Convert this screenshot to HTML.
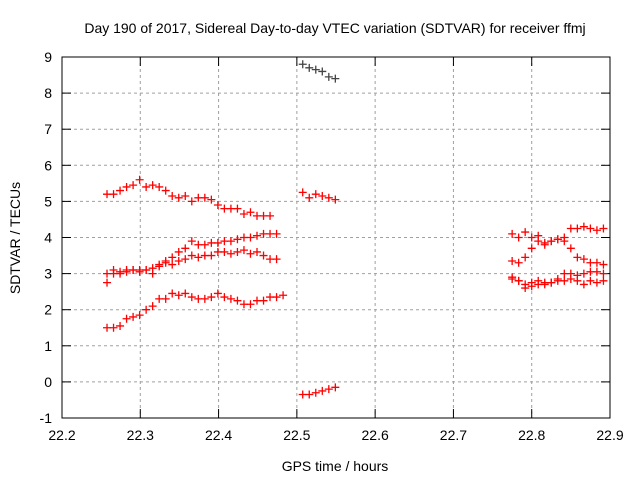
<!DOCTYPE html>
<html><head><meta charset="utf-8"><style>
body{margin:0;background:#fff}
svg{display:block;font-family:"Liberation Sans",sans-serif}
</style></head><body>
<svg id="c" width="640" height="480">
<text x="335" y="33" font-size="14" text-anchor="middle">Day 190 of 2017, Sidereal Day-to-day VTEC variation (SDTVAR) for receiver ffmj</text>
<text x="335" y="471" font-size="14" text-anchor="middle">GPS time / hours</text>
<text transform="translate(20,238) rotate(-90)" font-size="14" text-anchor="middle">SDTVAR / TECUs</text>
<g id="grid"></g><g id="ticks"></g><g id="marks"></g>
<rect x="62" y="57" width="548" height="361" fill="none" stroke="#000"/>
</svg>
<script>
const xTicks=[22.2,22.3,22.4,22.5,22.6,22.7,22.8,22.9];
const yTicks=[-1,0,1,2,3,4,5,6,7,8,9];
const seg1Start=22.2575, seg2Start=22.5075, seg3Start=22.7750, step=0.00833;
const s1a=[5.2,5.2,5.3,5.4,5.45,5.6,5.4,5.45,5.4,5.3,5.15,5.1,5.15,5.0,5.1,5.1,5.05,4.9,4.8,4.8,4.8,4.65,4.7,4.6,4.6,4.6];
const s1b=[3.0,3.1,3.05,3.1,3.1,3.1,3.1,3.15,3.25,3.35,3.45,3.6,3.7,3.9,3.8,3.8,3.85,3.85,3.9,3.9,3.95,4.0,4.0,4.05,4.1,4.1,4.1];
const s1c=[2.75,3.0,3.0,3.05,3.1,3.05,3.1,3.0,3.2,3.3,3.25,3.35,3.4,3.5,3.45,3.5,3.5,3.6,3.6,3.55,3.6,3.65,3.55,3.6,3.5,3.4,3.4];
const s1d=[1.5,1.5,1.55,1.75,1.8,1.85,2.0,2.1,2.3,2.3,2.45,2.4,2.45,2.35,2.3,2.3,2.35,2.45,2.35,2.3,2.25,2.15,2.15,2.25,2.25,2.35,2.35,2.4];
const s2a=[8.8,8.7,8.65,8.6,8.45,8.4];
const s2b=[5.25,5.1,5.2,5.15,5.1,5.05];
const s2c=[-0.35,-0.35,-0.3,-0.25,-0.2,-0.15];
const s3a=[4.1,4.0,4.15,4.0,4.05,3.85,3.9,3.95,4.0,4.25,4.25,4.3,4.25,4.2,4.25];
const s3b=[3.35,3.3,3.45,3.7,3.9,3.8,3.9,3.95,3.9,3.7,3.45,3.4,3.3,3.3,3.25];
const s3c=[2.85,2.8,2.6,2.65,2.7,2.75,2.75,2.85,3.0,3.0,2.95,3.0,3.05,3.05,3.0];
const s3d=[2.9,2.8,2.7,2.75,2.8,2.7,2.75,2.8,2.8,2.85,2.8,2.7,2.8,2.75,2.8];
const X=v=>62+(v-22.2)*782.86, Y=v=>57+(9-v)*36.1;
const NS="http://www.w3.org/2000/svg";
function mk(t,a,p){const e=document.createElementNS(NS,t);for(const k in a)e.setAttribute(k,a[k]);p.appendChild(e);return e;}
const grid=document.getElementById('grid'),ticks=document.getElementById('ticks'),marks=document.getElementById('marks');
xTicks.forEach(v=>{const x=X(v);
 if(v>22.2&&v<22.9){const l=mk('line',{x1:x,x2:x,y1:57,y2:418,stroke:'#a0a0a0','stroke-dasharray':'3,3'},grid);
 
 }
 mk('line',{x1:x,x2:x,y1:418,y2:409,stroke:'#000'},ticks);mk('line',{x1:x,x2:x,y1:57,y2:66,stroke:'#000'},ticks);
 const t=mk('text',{x:x,y:440,'font-size':14,'text-anchor':'middle'},ticks);t.textContent=v.toFixed(1);
 
 });
yTicks.forEach(v=>{const y=Y(v);
 if(v>-1&&v<9){const l=mk('line',{x1:62,x2:610,y1:y,y2:y,stroke:'#a0a0a0','stroke-dasharray':'3,3'},grid);
 
 }
 mk('line',{x1:62,x2:71,y1:y,y2:y,stroke:'#000'},ticks);mk('line',{x1:610,x2:601,y1:y,y2:y,stroke:'#000'},ticks);
 const t=mk('text',{x:52,y:y+5,'font-size':14,'text-anchor':'end'},ticks);t.textContent=v;
 
 });
function series(arr,start,name,color){arr.forEach((v,i)=>{const x=X(start+i*step),y=Y(v);
 const p=mk('path',{d:`M${x-4},${y}H${x+4}M${x},${y-4}V${y+4}`,stroke:color,'stroke-width':1.3},marks);
 
 });}
series(s1a,seg1Start,'series-1a','#f00');series(s1b,seg1Start,'series-1b','#f00');
series(s1c,seg1Start,'series-1c','#f00');series(s1d,seg1Start,'series-1d','#f00');
series(s2a,seg2Start,'series-2a','#444');series(s2b,seg2Start,'series-2b','#f00');series(s2c,seg2Start,'series-2c','#f00');
series(s3a,seg3Start,'series-3a','#f00');series(s3b,seg3Start,'series-3b','#f00');
series(s3c,seg3Start,'series-3c','#f00');series(s3d,seg3Start,'series-3d','#f00');
</script>
</body></html>
